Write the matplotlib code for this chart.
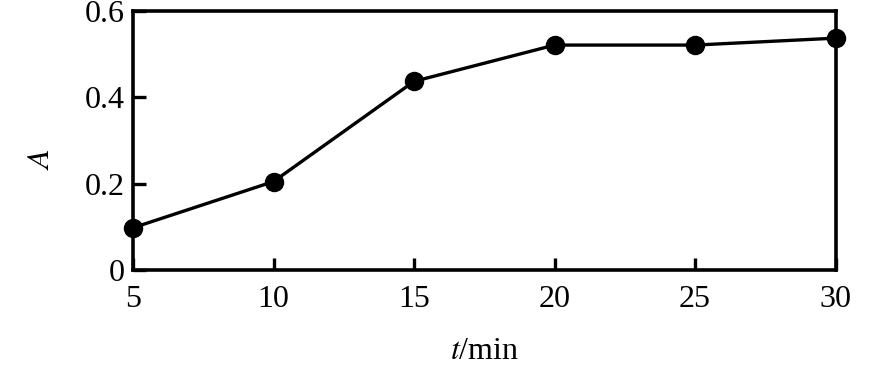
import matplotlib
matplotlib.use('Agg')
import matplotlib.pyplot as plt

t_min = [5, 10, 15, 20, 25, 30]
absorb = [0.098, 0.205, 0.437, 0.521, 0.521, 0.537]
x_ticks = [5, 10, 15, 20, 25, 30]
y_ticks = [0, 0.2, 0.4, 0.6]
y_labels = ['0', '0.2', '0.4', '0.6']

plt.rcParams['font.family'] = ['Liberation Serif', 'DejaVu Serif']
plt.rcParams['mathtext.fontset'] = 'stix'

fig = plt.figure(figsize=(8.75, 3.65), dpi=100)
ax = fig.add_axes([0.152, 0.26, 0.803, 0.71])
ax.plot(t_min, absorb, color='black', lw=2.4, marker='o', ms=13,
        clip_on=False, zorder=3)
ax.set_xlim(5, 30)
ax.set_ylim(0, 0.6)
ax.set_xticks(x_ticks)
ax.set_yticks(y_ticks)
ax.set_yticklabels(y_labels)
ax.tick_params(direction='in', length=9, width=2.4, labelsize=23)
ax.tick_params(axis='x', pad=11)
ax.tick_params(axis='y', pad=6)
for s in ax.spines.values():
    s.set_linewidth(2.6)
ax.set_xlabel('$t$/min', fontsize=23, labelpad=16)
ax.set_ylabel('$A$', fontsize=23)
ax.yaxis.set_label_coords(-0.109, 0.43)
fig.savefig('out.png', dpi=100)
